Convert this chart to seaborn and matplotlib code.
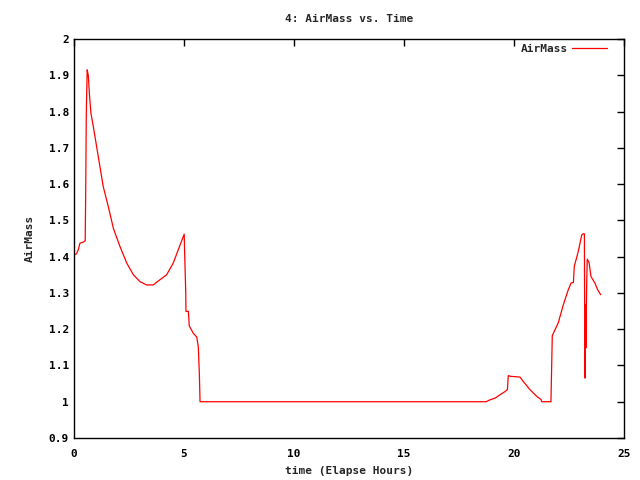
import pandas as pd
import matplotlib
matplotlib.use("Agg")
import matplotlib.pyplot as plt
import seaborn as sns
from matplotlib.ticker import MultipleLocator, FormatStrFormatter

# data (elapsed hours, airmass)
hours = [0.0, 0.12, 0.2, 0.27, 0.42, 0.51, 0.53, 0.56, 0.6, 0.65, 0.7, 0.77, 0.88,
         1.03, 1.18, 1.33, 1.56, 1.79, 2.09, 2.4, 2.7, 3.0, 3.3, 3.6, 3.9, 4.21,
         4.51, 4.74, 5.01, 5.03, 5.08, 5.09, 5.2, 5.24, 5.42, 5.58, 5.65, 5.7, 5.73,
         18.73, 18.9, 19.14, 19.36, 19.59, 19.7, 19.74, 19.85, 20.27, 20.42, 20.73,
         21.03, 21.23, 21.26, 21.68, 21.71, 21.74, 21.86, 22.01, 22.24, 22.47, 22.59,
         22.7, 22.74, 22.92, 23.08, 23.15, 23.2, 23.21, 23.23, 23.26, 23.27, 23.3,
         23.33, 23.41, 23.5, 23.68, 23.8, 23.94]
airmass = [1.405, 1.408, 1.42, 1.437, 1.44, 1.444, 1.563, 1.797, 1.915, 1.90, 1.85,
           1.795, 1.758, 1.703, 1.648, 1.593, 1.538, 1.478, 1.428, 1.382, 1.35, 1.331,
           1.322, 1.322, 1.336, 1.35, 1.382, 1.419, 1.462, 1.41, 1.301, 1.249, 1.249,
           1.209, 1.189, 1.178, 1.152, 1.074, 1.0,
           1.0, 1.005, 1.01, 1.019, 1.028, 1.033, 1.072, 1.07, 1.068, 1.056, 1.033,
           1.015, 1.006, 1.0, 1.0, 1.091, 1.182, 1.198, 1.217, 1.267, 1.309, 1.327,
           1.329, 1.373, 1.414, 1.46, 1.463, 1.463, 1.265, 1.065, 1.267, 1.148, 1.313,
           1.393, 1.384, 1.345, 1.327, 1.309, 1.295]

df = pd.DataFrame({"time": hours, "AirMass": airmass})

sns.set_style("white")
plt.rcParams["font.family"] = ["DejaVu Sans Mono"]
plt.rcParams["font.weight"] = "bold"
plt.rcParams["font.size"] = 8

fig = plt.figure(figsize=(6.4, 4.8), dpi=100)
ax = fig.add_axes([0.1156, 0.0875, 0.8594, 0.83125])

sns.lineplot(data=df, x="time", y="AirMass", color="red", linewidth=0.9,
             label="AirMass", ax=ax, sort=False)

ax.set_xlim(0, 25)
ax.set_ylim(0.9, 2.0)
ax.xaxis.set_major_locator(MultipleLocator(5))
ax.yaxis.set_major_locator(MultipleLocator(0.1))
ax.yaxis.set_major_formatter(FormatStrFormatter("%g"))
ax.tick_params(direction="in", length=5, width=1, top=True, right=True,
               labelsize=8, colors="black")
ax.tick_params(axis="x", pad=8)
for s in ax.spines.values():
    s.set_color("black")
    s.set_linewidth(1)

ax.set_xlabel("time (Elapse Hours)", fontsize=8, fontweight="bold", labelpad=5)
ax.set_ylabel("AirMass", fontsize=8, fontweight="bold", labelpad=10)
ax.set_title("4: AirMass vs. Time", fontsize=8, fontweight="bold", pad=12)

leg = ax.legend(loc="upper right", bbox_to_anchor=(0.984, 1.008), frameon=False,
                markerfirst=False, handlelength=3.2, handletextpad=0.35,
                prop={"size": 8, "weight": "bold"}, borderaxespad=0.3)

fig.savefig("out.png", dpi=100)
